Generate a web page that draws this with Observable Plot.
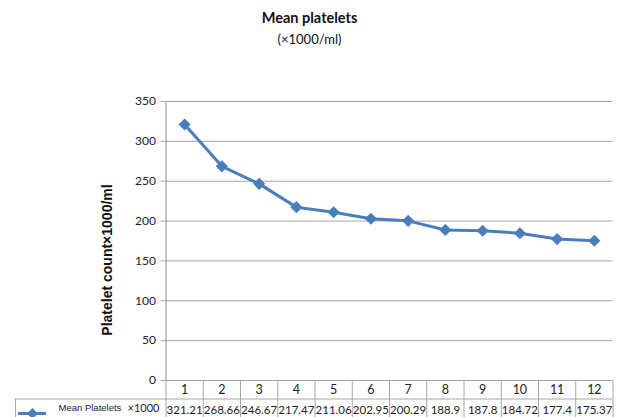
<!DOCTYPE html>
<html>
<head>
<meta charset="utf-8">
<script src="https://cdn.jsdelivr.net/npm/d3@7"></script>
<script src="https://cdn.jsdelivr.net/npm/@observablehq/plot@0.6"></script>
<style>
  html, body { margin: 0; padding: 0; background: #fff; }
  #wrap { width: 619px; height: 417px; overflow: hidden; position: relative; font-family: Lato, "Open Sans", sans-serif; }
  #title { height: 60px; text-align: center; color: #111; }
  #title .t { font-weight: bold; font-size: 14.5px; padding-top: 9px; line-height: 18px; }
  #title .s { font-size: 13px; line-height: 18px; margin-top: 3px; }
  svg { display: block; }
</style>
</head>
<body>
<div id="wrap">
  <div id="title"><div class="t">Mean platelets</div><div class="s">(×1000/ml)</div></div>
  <div id="chart"></div>
</div>
<script>
const categories = [1, 2, 3, 4, 5, 6, 7, 8, 9, 10, 11, 12];
const meanPlatelets = [321.21, 268.66, 246.67, 217.47, 211.06, 202.95, 200.29, 188.9, 187.8, 184.72, 177.4, 175.37];
const valueLabels = ["321.21", "268.66", "246.67", "217.47", "211.06", "202.95", "200.29", "188.9", "187.8", "184.72", "177.4", "175.37"];
const yTicks = [0, 50, 100, 150, 200, 250, 300, 350];
const seriesName = "Mean Platelets";
const unitLabel = "×1000";
const yLabel = "Platelet count×1000/ml";

const data = categories.map((c, i) => ({cat: c, value: meanPlatelets[i], label: valueLabels[i]}));
const boundaries = [...categories.map(c => c - 0.5), categories[categories.length - 1] + 0.5];

const blue = "#4a7ebb";
const grid = "#a6a6a6";

const chart = Plot.plot({
  width: 619,
  height: 357,
  marginTop: 41,
  marginBottom: 37,
  marginLeft: 165.5,
  marginRight: 6.5,
  style: {fontFamily: "Lato, 'Open Sans', sans-serif", fontSize: "12px", color: "#222", background: "white", overflow: "visible"},
  x: {type: "linear", domain: [0.5, 12.5], axis: null},
  y: {domain: [0, 350], axis: null},
  marks: [
    Plot.gridY(yTicks, {stroke: grid, strokeOpacity: 1}),
    Plot.axisY(yTicks, {tickSize: 5, tickPadding: 5, stroke: grid, fontSize: 12, label: null, tickFormat: d => String(d)}),
    // y axis line
    Plot.ruleX([0.5], {stroke: "#8c8c8c"}),
    // table vertical borders
    Plot.ruleX(boundaries, {y1: 0, y2: 0, insetBottom: -40, stroke: grid}),
    // table horizontal border between rows
    Plot.ruleY([0], {dy: 18.5, insetLeft: -150.5, stroke: grid}),
    // legend cell left border
    Plot.ruleX([0.5], {y1: 0, y2: 0, dx: -150.5, insetTop: 18.5, insetBottom: -40, stroke: grid}),
    // category labels
    Plot.text(data, {x: "cat", y: 0, dy: 9.5, text: d => String(d.cat), fontSize: 12.5, fill: "#222"}),
    // value labels
    Plot.text(data, {x: "cat", y: 0, dy: 30, text: "label", fontSize: 11.5, fill: "#222"}),
    // legend
    Plot.ruleY([0], {dy: 33, insetLeft: -147.5, insetRight: 566.5, stroke: blue, strokeWidth: 3}),
    Plot.dot([seriesName], {frameAnchor: "bottom-left", dx: -133.5, dy: 33, symbol: "diamond2", r: 4, fill: blue, stroke: blue}),
    Plot.text([seriesName], {frameAnchor: "bottom-left", dx: -107.5, dy: 30.5, textAnchor: "start", fontFamily: "'Liberation Sans Narrow', 'Liberation Sans', sans-serif", fontSize: 9.5, fill: "#222"}),
    Plot.text([unitLabel], {frameAnchor: "bottom-left", dx: -38.5, dy: 31, textAnchor: "start", fontSize: 11, fill: "#222"}),
    // y label
    Plot.text([yLabel], {frameAnchor: "left", dx: -58, dy: 19, rotate: -90, textAnchor: "middle", fontFamily: "'Liberation Sans', Arial, sans-serif", fontWeight: "bold", fontSize: 14, fill: "#111"}),
    // series
    Plot.line(data, {x: "cat", y: "value", stroke: blue, strokeWidth: 3}),
    Plot.dot(data, {x: "cat", y: "value", symbol: "diamond2", r: 4.5, fill: blue, stroke: blue})
  ]
});
document.getElementById("chart").appendChild(chart);
</script>
</body>
</html>
